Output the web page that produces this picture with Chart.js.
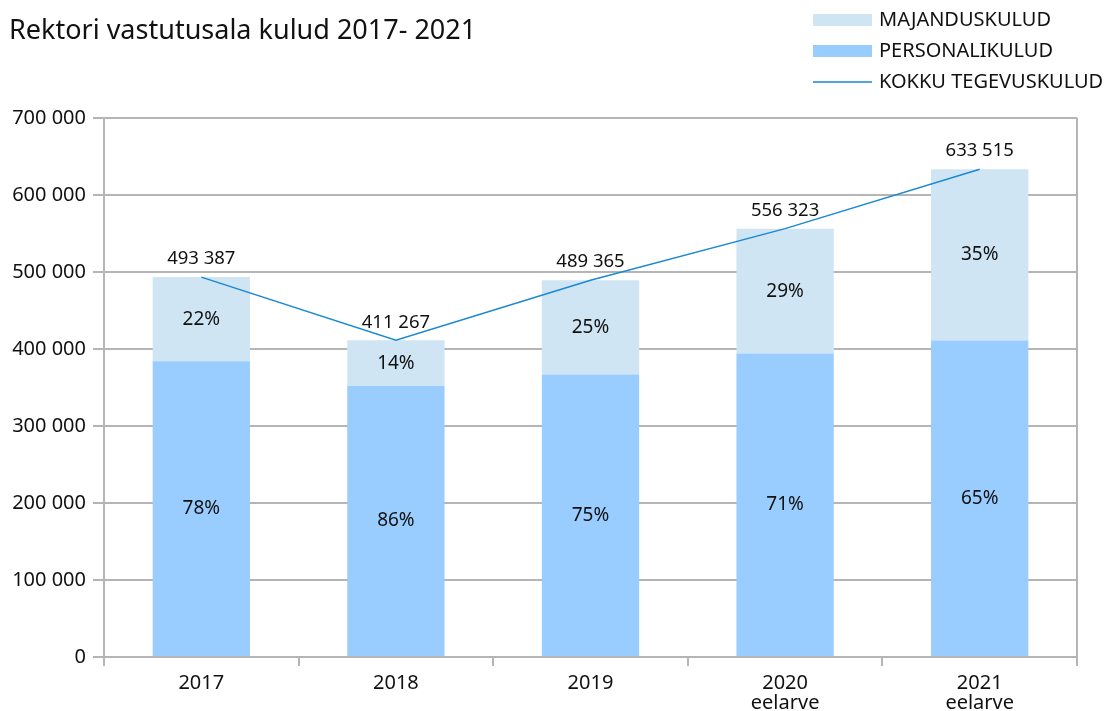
<!DOCTYPE html>
<html>
<head>
<meta charset="utf-8">
<script src="https://cdn.jsdelivr.net/npm/chart.js@4"></script>
<style>
  html, body { margin:0; padding:0; background:#fff; }
  #wrap { width:1114px; height:711px; position:relative; }
</style>
</head>
<body>
<div id="wrap"><canvas id="chart1" width="1114" height="711"></canvas></div>
<script>
// andmed
const aastad = ["2017", "2018", "2019", ["2020", "eelarve"], ["2021", "eelarve"]];
const kokku = [493387, 411267, 489365, 556323, 633515];
const personalikulud = [384000, 352000, 367000, 394000, 411000];
const majanduskulud = [109387, 59267, 122365, 162323, 222515];
const personalProtsent = [78, 86, 75, 71, 65];
const majandusProtsent = [22, 14, 25, 29, 35];
const yTicks = [0, 100000, 200000, 300000, 400000, 500000, 600000, 700000];

const pealkiri = "Rektori vastutusala kulud 2017- 2021";
const FONT = "'Noto Sans', sans-serif";
const HALL = "#b5b5b5";

function tuhanded(n){
    return String(n).replace(/\B(?=(\d{3})+(?!\d))/g, " ");
}

// pealkiri, legend, parem serv ja sildid
const lisad = {
    id: "lisad",
    afterDraw(chart){
        const ctx = chart.ctx;
        const a = chart.chartArea;
        ctx.save();

        // parem äär
        ctx.strokeStyle = HALL;
        ctx.lineWidth = 2;
        ctx.beginPath();
        ctx.moveTo(a.right, a.top);
        ctx.lineTo(a.right, a.bottom);
        ctx.stroke();

        // pealkiri
        ctx.fillStyle = "#111";
        ctx.font = "27px " + FONT;
        ctx.textAlign = "left";
        ctx.textBaseline = "middle";
        ctx.fillText(pealkiri, 9, 31);

        // legend
        ctx.font = "20px " + FONT;
        const ridu = [chart.data.datasets[1], chart.data.datasets[0], chart.data.datasets[2]];
        ridu.forEach((ds, i)=>{
            const y = 20 + i * 31;
            if(ds.type === "line"){
                ctx.strokeStyle = ds.borderColor;
                ctx.lineWidth = 1.5;
                ctx.beginPath();
                ctx.moveTo(813, y);
                ctx.lineTo(872, y);
                ctx.stroke();
            } else {
                ctx.fillStyle = ds.backgroundColor;
                ctx.fillRect(813, y - 6, 59, 12);
            }
            ctx.fillStyle = "#111";
            ctx.fillText(ds.label, 879, y);
        });

        // protsendid lõikudes
        ctx.textAlign = "center";
        ctx.font = "19px " + FONT;
        [[0, personalProtsent], [1, majandusProtsent]].forEach(([di, pr])=>{
            chart.getDatasetMeta(di).data.forEach((bar, i)=>{
                const y = (bar.y + bar.base) / 2;
                ctx.fillText(pr[i] + "%", bar.x, y);
            });
        });

        // kokku väärtused
        ctx.font = "18.5px " + FONT;
        chart.getDatasetMeta(2).data.forEach((p, i)=>{
            ctx.fillText(tuhanded(kokku[i]), p.x, p.y - 18);
        });

        ctx.restore();
    }
};

new Chart(document.getElementById("chart1"), {
    type: "bar",
    data: {
        labels: aastad,
        datasets: [
            {
                label: "PERSONALIKULUD",
                data: personalikulud,
                backgroundColor: "#99ccff",
                order: 2,
                barPercentage: 1,
                categoryPercentage: 0.5
            },
            {
                label: "MAJANDUSKULUD",
                data: majanduskulud,
                backgroundColor: "#cfe5f4",
                order: 2,
                barPercentage: 1,
                categoryPercentage: 0.5
            },
            {
                type: "line",
                label: "KOKKU TEGEVUSKULUD",
                data: kokku,
                borderColor: "#1a88d2",
                borderWidth: 1.5,
                pointRadius: 0,
                tension: 0,
                stack: "kokku",
                order: 1
            }
        ]
    },
    options: {
        responsive: false,
        animation: false,
        layout: { padding: { top: 118, right: 37, left: 0, bottom: 0 } },
        plugins: {
            legend: { display: false },
            title: { display: false },
            tooltip: { enabled: false }
        },
        scales: {
            x: {
                stacked: true,
                afterFit(s){ s.height = 54; },
                grid: {
                    offset: true,
                    drawOnChartArea: false,
                    drawTicks: true,
                    tickLength: 9,
                    color: HALL,
                    lineWidth: 2
                },
                border: { color: HALL, width: 2 },
                ticks: {
                    color: "#111",
                    font: { family: FONT, size: 20, lineHeight: 1 },
                    padding: 7,
                    maxRotation: 0
                }
            },
            y: {
                stacked: true,
                min: 0,
                max: 700000,
                afterFit(s){ s.width = 104; },
                afterBuildTicks(s){ s.ticks = yTicks.map(v=>({ value: v })); },
                grid: {
                    color: HALL,
                    lineWidth: 2,
                    tickLength: 11
                },
                border: { color: HALL, width: 2 },
                ticks: {
                    color: "#111",
                    font: { family: FONT, size: 20 },
                    padding: 7,
                    callback: v => tuhanded(v)
                }
            }
        }
    },
    plugins: [lisad]
});
</script>
</body>
</html>
